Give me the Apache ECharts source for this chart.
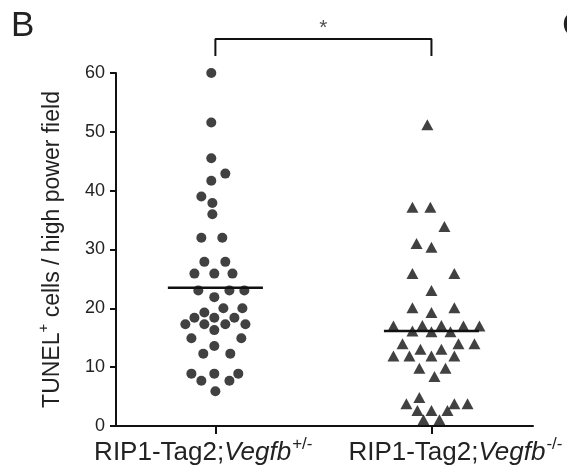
<!DOCTYPE html>
<html>
<head>
<meta charset="utf-8">
<script src="https://cdn.jsdelivr.net/npm/echarts@6/dist/echarts.min.js"></script>
<style>
html,body{margin:0;padding:0;background:#fff;}
#c{width:567px;height:474px;}
</style>
</head>
<body>
<div id="c"></div>
<script>
// ---- data ----
var groupNames = ['RIP1-Tag2;', 'RIP1-Tag2;'];
var groupGenes = ['Vegfb', 'Vegfb'];
var groupSup = ['+/-', '-/-'];
var yTicks = [0, 10, 20, 30, 40, 50, 60];
var circleValues = [60, 51.6, 45.5, 42.9, 41.7, 39, 37.9, 36, 32, 32, 27.9, 27.9, 25.9, 25.9, 25.9, 23.05, 23.05, 23.05, 21.9, 20, 20, 19.3, 18.4, 18.4, 18.4, 17.3, 17.3, 17.3, 17.3, 16.3, 14.9, 14.9, 13.6, 12.3, 12.3, 8.9, 8.9, 8.9, 7.7, 7.7, 5.9];
var circleJitter = [-0.019,-0.019,-0.019,0.046,-0.019,-0.065,-0.014,-0.014,-0.065,0.032,-0.051,0.046,-0.097,-0.005,0.079,-0.079,0.065,0.134,-0.005,0.037,0.125,-0.051,-0.097,-0.005,0.088,-0.139,-0.051,0.046,0.139,-0.005,-0.111,0.120,-0.005,-0.056,0.069,-0.111,-0.005,0.106,-0.065,0.065,0];
var triangleValues = [51.2, 37.2, 37.2, 33.9, 31.0, 30.4, 25.9, 25.9, 23.05, 20.1, 20.1, 19.3, 17.0, 17.1, 17.1, 17.0, 17.0, 16.15, 16.0, 16.0, 14.0, 14.0, 14.0, 13.05, 13.05, 11.9, 11.9, 11.9, 11.9, 9.8, 9.8, 8.4, 4.85, 3.8, 3.8, 3.8, 2.65, 2.65, 2.65, 1.07, 1.07];
var triangleJitter = [-0.019,-0.088,-0.005,0.060,-0.069,0,-0.088,0.106,0,-0.088,0.106,0,-0.176,-0.042,0.046,0.148,0.222,-0.088,0,0.088,-0.134,0.125,0.199,-0.051,0.046,-0.176,-0.102,0,0.106,-0.056,0.065,0.014,-0.056,-0.116,0.106,0.167,-0.065,0,0.074,-0.037,0.037];
var groupMeans = [23.5, 16.15];
var significance = '*';

// ---- chart ----
var FONT = '"Liberation Sans", Arial, Helvetica, sans-serif';
var INK = '#111';
var TXT = '#222';
var meanHalf = 0.22;
var labelAt = [0.944, 2.111]; // label anchor positions (layout only)
var chart = echarts.init(document.getElementById('c'), null, {renderer: 'canvas'});

function pts(vals, jit, g) {
  return vals.map(function (v, i) { return [g + jit[i], v]; });
}
function meanLine(g) {
  return [[g - meanHalf, groupMeans[g - 1]], [g + meanHalf, groupMeans[g - 1]]];
}

var option = {
  animation: false,
  backgroundColor: '#fff',
  textStyle: {fontFamily: FONT},
  grid: {left: 116, right: 34, top: 73, bottom: 47, containLabel: false},
  xAxis: {
    type: 'value', min: 0.54, max: 2.47,
    axisLine: {show: true, lineStyle: {color: INK, width: 2}},
    axisTick: {show: true, customValues: [1, 2], length: 8, lineStyle: {color: INK, width: 2}},
    splitLine: {show: false},
    axisLabel: {
      customValues: labelAt, margin: 10, color: TXT, hideOverlap: false,
      showMinLabel: true, showMaxLabel: true,
      formatter: function (v) {
        var i = v < 1.5 ? 0 : 1;
        return '{n|' + groupNames[i] + '}{i|' + groupGenes[i] + '}{s|' + groupSup[i] + '}';
      },
      rich: {
        n: {fontSize: 26, fontFamily: FONT, color: TXT, lineHeight: 30, verticalAlign: 'bottom'},
        i: {fontSize: 26, fontFamily: FONT, fontStyle: 'italic', color: TXT, lineHeight: 30, verticalAlign: 'bottom'},
        s: {fontSize: 17, fontFamily: FONT, color: TXT, lineHeight: 17, verticalAlign: 'top', padding: [0, 0, 21, 1]}
      }
    }
  },
  yAxis: {
    type: 'value', min: 0, max: 60, interval: 10,
    axisLine: {show: true, lineStyle: {color: INK, width: 2}},
    axisTick: {show: true, length: 6, lineStyle: {color: INK, width: 2}},
    splitLine: {show: false},
    axisLabel: {fontSize: 18, color: TXT, margin: 11, fontFamily: FONT,
      formatter: function (v) { return yTicks.indexOf(v) >= 0 ? String(v) : ''; }},
    name: '{a|TUNEL}{s|+}{a| cells / high power field}',
    nameLocation: 'middle', nameRotate: 90, nameGap: 52,
    nameTextStyle: {
      rich: {
        a: {fontSize: 23, fontFamily: FONT, color: TXT, lineHeight: 28, verticalAlign: 'bottom'},
        s: {fontSize: 15, fontFamily: FONT, color: TXT, lineHeight: 15, verticalAlign: 'top', padding: [0, 0, 16, 0]}
      }
    }
  },
  series: [
    {type: 'scatter', data: pts(circleValues, circleJitter, 1), symbol: 'circle', symbolSize: 10,
      itemStyle: {color: INK}, z: 3},
    {type: 'scatter', data: pts(triangleValues, triangleJitter, 2), symbol: 'triangle', symbolSize: [12, 11],
      itemStyle: {color: INK}, z: 3},
    {type: 'line', data: meanLine(1), symbol: 'none', lineStyle: {color: INK, width: 2.5}, z: 4},
    {type: 'line', data: meanLine(2), symbol: 'none', lineStyle: {color: INK, width: 2.5}, z: 4},
    {type: 'line', data: [[1, 62.9], [1, 65.8], [2, 65.8], [2, 62.9]], symbol: 'none', clip: false,
      lineStyle: {color: INK, width: 2}},
    {type: 'scatter', data: [[1.5, 67.6]], symbolSize: 1, clip: false, itemStyle: {color: 'rgba(0,0,0,0)'},
      label: {show: true, position: 'inside', formatter: significance, fontSize: 21, color: TXT, fontFamily: FONT}}
  ],
  graphic: [
    {type: 'text', left: 11, top: 9, style: {text: 'B', fontSize: 35, fontFamily: FONT, fill: TXT}},
    {type: 'text', left: 562, top: 9, style: {text: 'C', fontSize: 35, fontFamily: FONT, fill: TXT}}
  ]
};
chart.setOption(option);
</script>
</body>
</html>
